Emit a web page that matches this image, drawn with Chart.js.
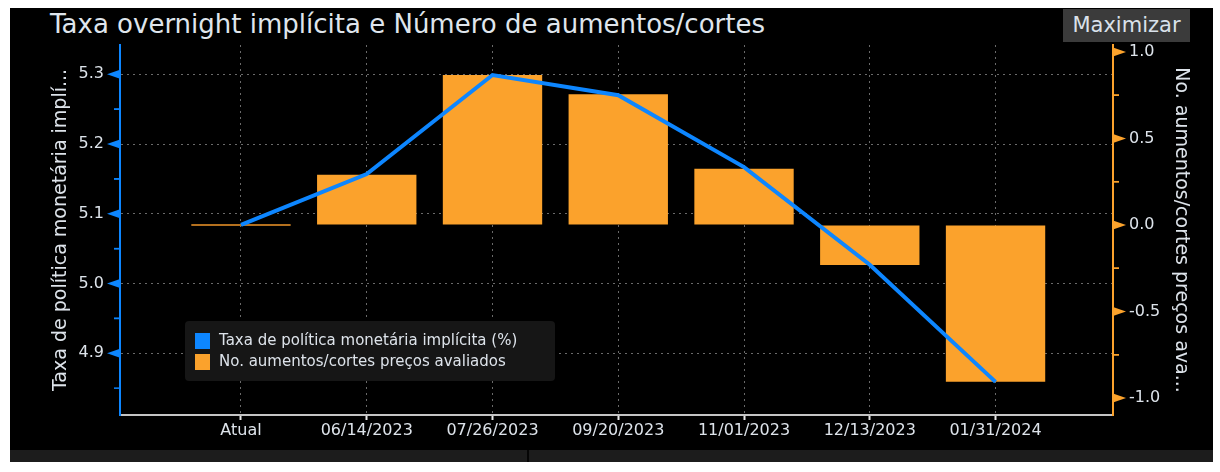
<!DOCTYPE html>
<html>
<head>
<meta charset="utf-8">
<script src="https://cdn.jsdelivr.net/npm/chart.js@4.4.1/dist/chart.umd.min.js"></script>
<style>
  html, body { margin: 0; padding: 0; background: #fff; }
  #page { position: relative; width: 1220px; height: 472px; overflow: hidden; }
  #panel { position: absolute; left: 10px; top: 8px; width: 1203px; height: 442px; background: #000; }
  #strip { position: absolute; left: 10px; top: 450px; width: 1203px; height: 12px; background: #1c1c1c; }
  #strip-div { position: absolute; left: 527px; top: 450px; width: 2px; height: 12px; background: #050505; }
  #title { position: absolute; left: 50px; top: 9px; font: 26px "DejaVu Sans", sans-serif; color: #dfe5ec; white-space: nowrap; }
  #maxBtn { position: absolute; left: 1063px; top: 9px; width: 127px; height: 33px; background: #3b3b3b;
            font: 21px "DejaVu Sans", sans-serif; color: #d9e1ea; text-align: center; line-height: 33px; }
  #wrap { position: absolute; left: 0; top: 0; width: 1220px; height: 472px; }
</style>
</head>
<body>
<div id="page">
  <div id="panel"></div>
  <div id="strip"></div>
  <div id="strip-div"></div>
  <div id="title">Taxa overnight implícita e Número de aumentos/cortes</div>
  <div id="maxBtn">Maximizar</div>
  <div id="wrap"><canvas id="rateChart"></canvas></div>
</div>
<script>
const categories = ["Atual", "06/14/2023", "07/26/2023", "09/20/2023", "11/01/2023", "12/13/2023", "01/31/2024"];
const taxaImplicita = [5.084, 5.157, 5.299, 5.27, 5.167, 5.027, 4.859];
const aumentosCortes = [0, 0.29, 0.867, 0.755, 0.325, -0.231, -0.906];
const leftTicks = [4.9, 5.0, 5.1, 5.2, 5.3];
const rightTicks = [-1.0, -0.5, 0.0, 0.5, 1.0];

const BLUE = "#0d86ff";
const ORANGE = "#fba22c";
const TEXT = "#dde3ea";
const GRID = "#6a6a6a";

// triangles on major ticks + short minor ticks on both value axes
const axisMarks = {
  id: "axisMarks",
  afterDraw(chart) {
    const c = chart.ctx;
    const drawAxis = (scale, ticks, color, dir) => {
      const x0 = dir < 0 ? scale.right : scale.left;
      c.save();
      c.fillStyle = color;
      c.strokeStyle = color;
      c.lineWidth = 1.5;
      ticks.forEach((v, i) => {
        const y = scale.getPixelForValue(v);
        c.beginPath();
        c.moveTo(x0, y - 4.5);
        c.lineTo(x0 + dir * 13, y);
        c.lineTo(x0, y + 4.5);
        c.closePath();
        c.fill();
        const step = i > 0 ? v - ticks[i - 1] : ticks[1] - ticks[0];
        [v - step / 2, v + step / 2].forEach((m) => {
          const ym = scale.getPixelForValue(m);
          if (ym < chart.chartArea.top || ym > chart.chartArea.bottom) return;
          c.beginPath();
          c.moveTo(x0, ym);
          c.lineTo(x0 + dir * 6, ym);
          c.stroke();
        });
      });
      c.restore();
    };
    drawAxis(chart.scales.y, leftTicks, BLUE, -1);
    drawAxis(chart.scales.y1, rightTicks, ORANGE, 1);
  },
};

// legend box inside the plot area
const boxLegend = {
  id: "boxLegend",
  afterDraw(chart) {
    const c = chart.ctx;
    const x = 185, y = 321, w = 370, h = 60;
    c.save();
    c.fillStyle = "#161616";
    c.beginPath();
    c.roundRect(x, y, w, h, 4);
    c.fill();
    c.font = '15px "DejaVu Sans", sans-serif';
    c.textBaseline = "middle";
    chart.data.datasets.forEach((ds, i) => {
      const cy = y + 20 + i * 21;
      c.fillStyle = ds.legendColor;
      c.fillRect(x + 10, cy - 8, 15, 16);
      c.fillStyle = TEXT;
      c.fillText(ds.label, x + 34, cy);
    });
    c.restore();
  },
};

const ctx = document.getElementById("rateChart").getContext("2d");
const rateChart = new Chart(ctx, {
  data: {
    datasets: [
      {
        type: "line",
        label: "Taxa de política monetária implícita (%)",
        data: taxaImplicita.map((v, i) => ({ x: i, y: v })),
        yAxisID: "y",
        borderColor: BLUE,
        legendColor: BLUE,
        borderWidth: 4,
        pointRadius: 0,
        tension: 0,
        order: 0,
      },
      {
        type: "bar",
        label: "No. aumentos/cortes preços avaliados",
        data: aumentosCortes.map((v, i) => ({ x: i, y: v })),
        yAxisID: "y1",
        backgroundColor: (c) => (c.parsed && c.parsed.y === 0 ? "#b4701e" : ORANGE),
        legendColor: ORANGE,
        categoryPercentage: 1,
        barPercentage: 0.79,
        minBarLength: 2,
        order: 1,
      },
    ],
  },
  options: {
    responsive: true,
    maintainAspectRatio: false,
    animation: false,
    layout: { padding: { top: 45, left: 0, right: 0, bottom: 0 } },
    plugins: {
      legend: { display: false },
      tooltip: { enabled: false },
    },
    scales: {
      x: {
        type: "linear",
        offset: false,
        min: -0.962,
        max: 6.934,
        afterFit: (s) => { s.height = 57; },
        afterBuildTicks: (s) => { s.ticks = categories.map((_, i) => ({ value: i })); },
        ticks: {
          callback: (v) => categories[v],
          color: TEXT,
          font: { family: "DejaVu Sans", size: 16 },
          padding: 1,
          maxRotation: 0,
          autoSkip: false,
        },
        grid: { offset: false, color: GRID, tickColor: "#e8e8e8", tickLength: 5, tickWidth: 2 },
        border: { color: "#c4c4c4", width: 2, dash: [2, 4] },
      },
      y: {
        position: "left",
        min: 4.8115,
        max: 5.342,
        afterFit: (s) => { s.width = 120; },
        afterBuildTicks: (s) => { s.ticks = leftTicks.map((v) => ({ value: v })); },
        ticks: {
          callback: (v) => v.toFixed(1),
          color: TEXT,
          font: { family: "DejaVu Sans", size: 16 },
          padding: 16,
        },
        grid: { color: GRID, drawTicks: false },
        border: { color: BLUE, width: 2, dash: [2, 4] },
        title: {
          display: true,
          text: "Taxa de política monetária implí...",
          color: TEXT,
          font: { family: "DejaVu Sans", size: 19 },
          padding: { top: 50, bottom: 0 },
        },
      },
      y1: {
        position: "right",
        min: -1.098,
        max: 1.04,
        afterFit: (s) => { s.width = 107; },
        afterBuildTicks: (s) => { s.ticks = rightTicks.map((v) => ({ value: v })); },
        ticks: {
          callback: (v) => v.toFixed(1),
          color: TEXT,
          font: { family: "DejaVu Sans", size: 16 },
          padding: 16,
        },
        grid: { drawOnChartArea: false, drawTicks: false },
        border: { color: ORANGE, width: 2 },
        title: {
          display: true,
          text: "No. aumentos/cortes preços ava...",
          color: TEXT,
          font: { family: "DejaVu Sans", size: 19 },
          padding: { top: 28, bottom: 0 },
        },
      },
    },
  },
  plugins: [axisMarks, boxLegend],
});
</script>
</body>
</html>
